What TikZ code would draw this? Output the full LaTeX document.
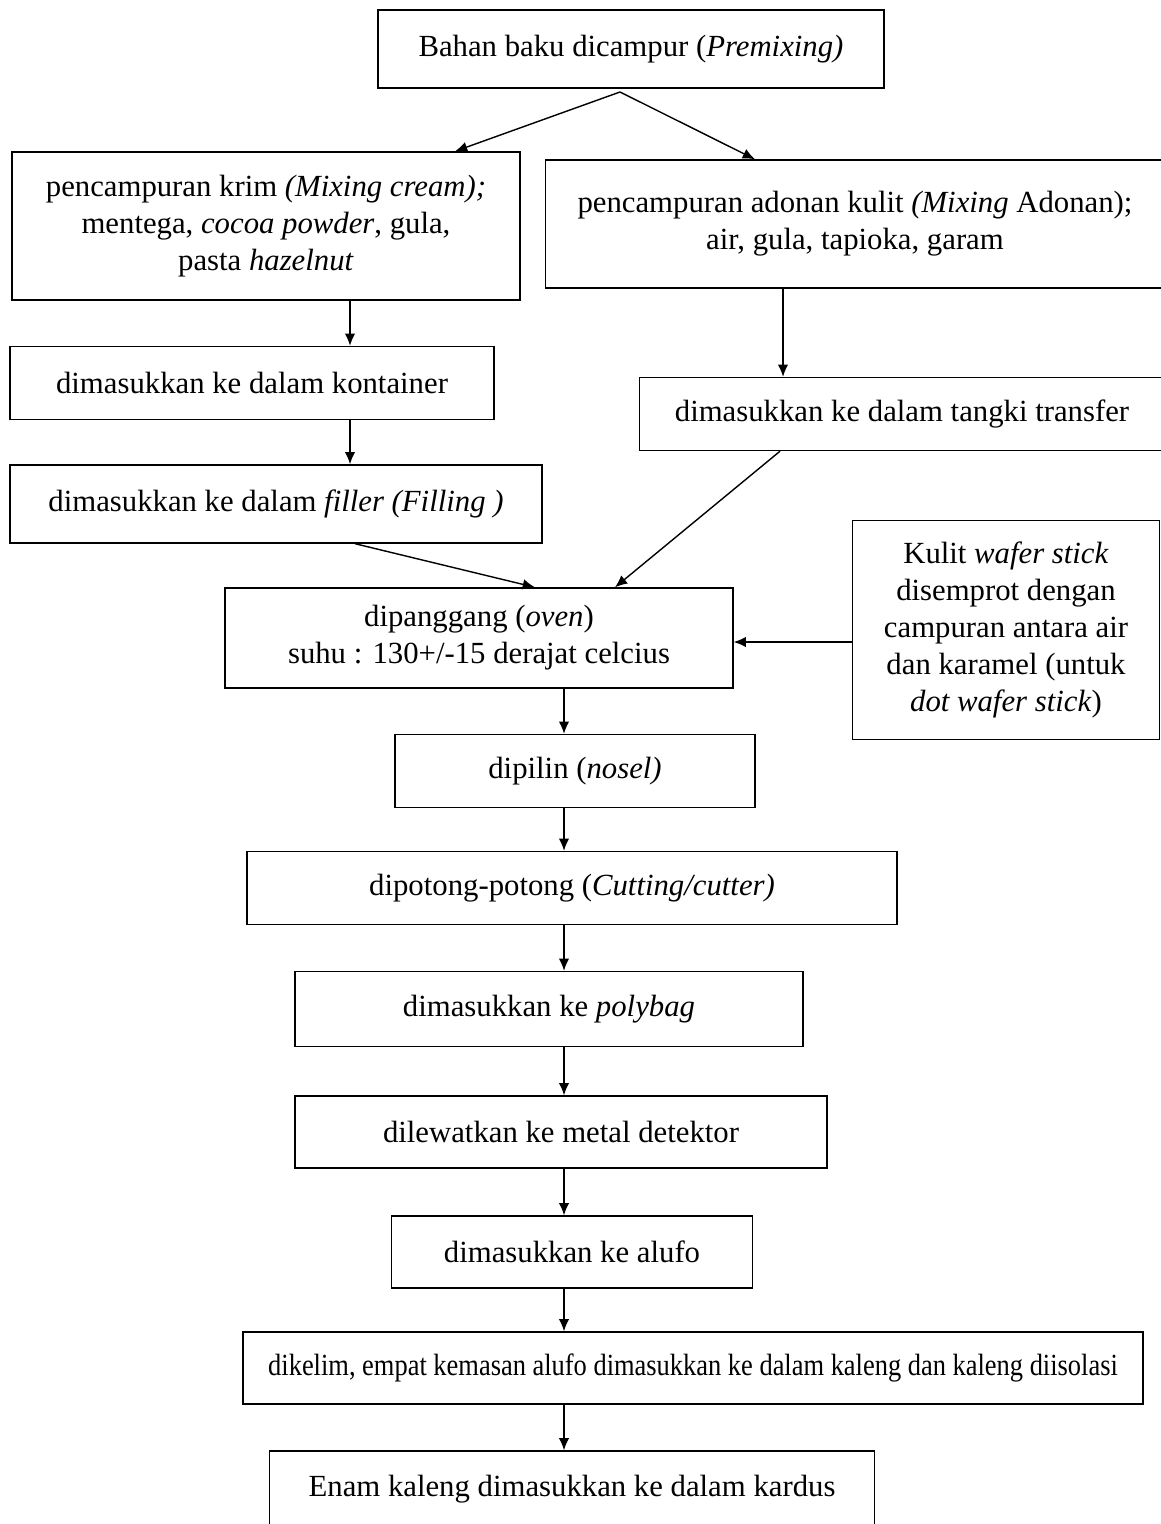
\documentclass[tikz,border=0pt]{standalone}
\usepackage{fontspec}
\setmainfont{Liberation Serif}
\usetikzlibrary{arrows.meta,calc}

\begin{document}
\begin{tikzpicture}[x=0.02cm,y=-0.02cm,>={Latex[length=7pt,width=6pt]},
    box/.style={draw, line width=.8pt, align=center, inner sep=0pt,
      font=\fontsize{17.5}{21}\selectfont},
    flow/.style={->, line width=.8pt}]
        \useasboundingbox (0,0) rectangle (1160,1524);

        \node[box, minimum width=10.12cm, minimum height=1.56cm] (premix) at (631,49) {Bahan baku dicampur (\textit{Premixing)}};

        \node[box, minimum width=10.16cm, minimum height=2.96cm] (krim) at (266,226) {pencampuran krim \textit{(Mixing cream);}\\ mentega, \textit{cocoa powder}, gula,\\ pasta \textit{hazelnut}};
        \node[box, minimum width=12.38cm, minimum height=2.56cm] (adonan) at (855,224) {pencampuran adonan kulit \textit{(Mixing} Adonan);\\ air, gula, tapioka, garam};

        \node[box, minimum width=9.68cm, minimum height=1.46cm] (kontainer) at (252,383) {dimasukkan ke dalam kontainer};
        \node[box, minimum width=10.5cm, minimum height=1.46cm] (tangki) at (902,414) {dimasukkan ke dalam tangki transfer};
        \node[box, minimum width=10.64cm, minimum height=1.56cm] (filler) at (276,504) {dimasukkan ke dalam \textit{filler (Filling )}};

        \node[box, minimum width=10.16cm, minimum height=2cm] (oven) at (479,638) {dipanggang (\textit{oven})\\ suhu : 130+/-15 derajat celcius};
        \node[box, minimum width=6.14cm, minimum height=4.38cm] (kulit) at (1006,630) {Kulit \textit{wafer stick}\\ disemprot dengan\\ campuran antara air\\ dan karamel (untuk\\ \textit{dot wafer stick})};

        \node[box, minimum width=7.2cm, minimum height=1.46cm] (nosel) at (575,771) {dipilin (\textit{nosel)}};
        \node[box, minimum width=13cm, minimum height=1.46cm] (cutting) at (572,888) {dipotong-potong (\textit{Cutting/cutter)}};
        \node[box, minimum width=10.16cm, minimum height=1.5cm] (polybag) at (549,1009) {dimasukkan ke \textit{polybag}};
        \node[box, minimum width=10.64cm, minimum height=1.44cm] (metal) at (561,1132) {dilewatkan ke metal detektor};
        \node[box, minimum width=7.22cm, minimum height=1.44cm] (alufo) at (572,1252) {dimasukkan ke alufo};
        \node[box, minimum width=18cm, minimum height=1.44cm] (kelim) at (693,1368) {\scalebox{0.86}[1]{dikelim, empat kemasan alufo dimasukkan ke dalam kaleng dan kaleng diisolasi}};
        \node[box, minimum width=12.1cm, minimum height=1.52cm] (kardus) at (572,1489) {Enam kaleng dimasukkan ke dalam kardus};

        % titik bantu
        \coordinate (split) at (620,92);
        \coordinate (kiri) at (350,0);
        \coordinate (kanan) at (783,0);
        \coordinate (tengah) at (564,0);

        \draw[flow] (split) -- ($(krim.north)+(189,0)$);
        \draw[flow] (split) -- ($(adonan.north)+(-100,0)$);

        \draw[flow] (kiri |- krim.south) -- (kiri |- kontainer.north);
        \draw[flow] (kiri |- kontainer.south) -- (kiri |- filler.north);
        \draw[flow] (kanan |- adonan.south) -- (kanan |- tangki.north);

        \draw[flow] ($(filler.south)+(79,0)$) -- ($(oven.north)+(56,0)$);
        \draw[flow] ($(tangki.south)+(-122,0)$) -- ($(oven.north)+(136,0)$);
        \draw[flow] ($(kulit.west)+(0,12)$) -- (oven.east |- {$(kulit.west)+(0,12)$});

        \draw[flow] (tengah |- oven.south) -- (tengah |- nosel.north);
        \draw[flow] (tengah |- nosel.south) -- (tengah |- cutting.north);
        \draw[flow] (tengah |- cutting.south) -- (tengah |- polybag.north);
        \draw[flow] (tengah |- polybag.south) -- (tengah |- metal.north);
        \draw[flow] (tengah |- metal.south) -- (tengah |- alufo.north);
        \draw[flow] (tengah |- alufo.south) -- (tengah |- kelim.north);
        \draw[flow] (tengah |- kelim.south) -- (tengah |- kardus.north);
\end{tikzpicture}
\end{document}
